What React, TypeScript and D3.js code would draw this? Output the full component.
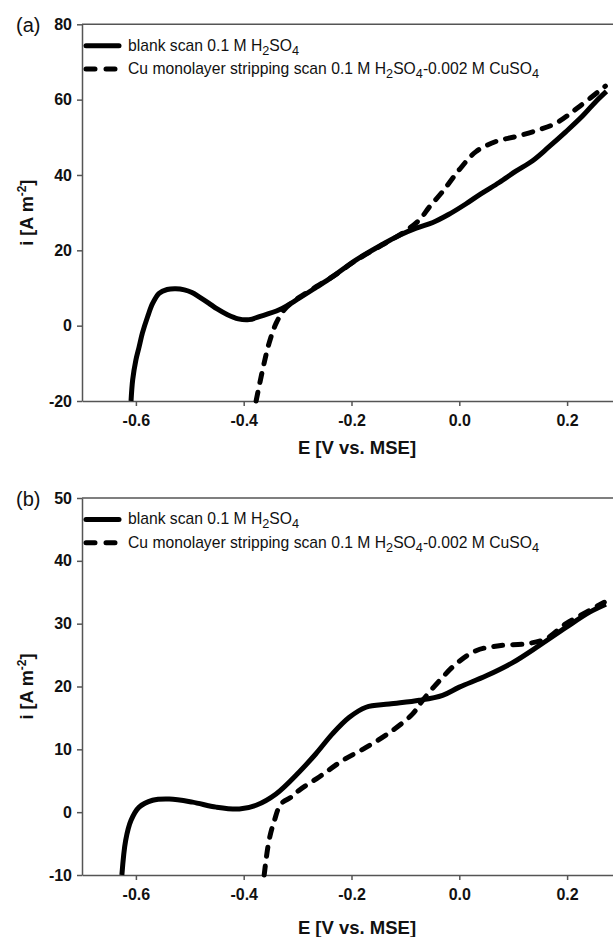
import React, { useEffect, useRef } from "react";
import * as d3 from "d3";

// ---------- data ----------
const xTicks = [-0.6, -0.4, -0.2, 0.0, 0.2];
const yTicksA = [-20, 0, 20, 40, 60, 80];
const yTicksB = [-10, 0, 10, 20, 30, 40, 50];

const blankA_E = [-0.609, -0.606, -0.6, -0.594, -0.588, -0.578, -0.569, -0.557, -0.542, -0.526, -0.51, -0.496, -0.482, -0.465, -0.45, -0.43, -0.41, -0.39, -0.371, -0.334, -0.297, -0.265, -0.235, -0.192, -0.142, -0.111, -0.08, -0.049, -0.02, 0.012, 0.04, 0.074, 0.105, 0.136, 0.165, 0.198, 0.229, 0.254, 0.273];
const blankA_i = [-20, -14.4, -9.1, -5.6, -2.0, 2.5, 5.9, 8.6, 9.6, 9.8, 9.5, 8.8, 7.6, 6.0, 4.5, 2.9, 1.8, 1.6, 2.4, 4.2, 7.3, 10.2, 13.0, 17.4, 21.6, 24.0, 25.9, 27.4, 29.5, 32.3, 35.0, 38.0, 41.0, 43.8, 47.3, 51.5, 55.7, 59.6, 62.2];
const cuA_E = [-0.377, -0.365, -0.353, -0.34, -0.325, -0.31, -0.297, -0.265, -0.235, -0.192, -0.142, -0.105, -0.074, -0.055, -0.031, 0.0, 0.031, 0.068, 0.105, 0.148, 0.18, 0.223, 0.271];
const cuA_i = [-20, -11.8, -4.7, 0.6, 4.2, 6.2, 7.5, 10.4, 13.0, 17.3, 21.5, 24.6, 28.1, 31.6, 35.6, 41.4, 46.2, 48.9, 50.2, 52.0, 53.8, 58.2, 63.6];

const blankB_E = [-0.626, -0.619, -0.609, -0.594, -0.569, -0.538, -0.495, -0.451, -0.408, -0.377, -0.34, -0.297, -0.266, -0.235, -0.204, -0.173, -0.13, -0.074, -0.031, 0.0, 0.05, 0.099, 0.148, 0.198, 0.241, 0.272];
const blankB_i = [-10, -4.5, -1.3, 0.8, 1.9, 2.1, 1.6, 0.8, 0.5, 1.1, 2.9, 6.4, 9.3, 12.5, 15.1, 16.7, 17.2, 17.8, 18.6, 19.9, 21.7, 23.8, 26.5, 29.4, 31.8, 33.1];
const cuB_E = [-0.362, -0.353, -0.343, -0.331, -0.312, -0.297, -0.26, -0.217, -0.173, -0.124, -0.087, -0.068, -0.037, -0.006, 0.031, 0.074, 0.124, 0.161, 0.198, 0.241, 0.269];
const cuB_i = [-10, -4.5, -1.3, 1.3, 2.4, 3.5, 5.6, 8.2, 10.3, 13.0, 15.6, 17.8, 20.9, 23.6, 25.7, 26.5, 26.8, 27.6, 30.0, 32.1, 33.4];

const panelLabels = ["(a)", "(b)"];
const xTitle = "E [V vs. MSE]";
const xDomain: [number, number] = [-0.7, 0.3];
const yDomainA: [number, number] = [-20, 80];
const yDomainB: [number, number] = [-10, 50];

// ---------- layout ----------
const W = 613, H = 937;
const FONT = "'Liberation Sans', Arial, Helvetica, sans-serif";
const AXIS_COLOR = "#555";
const DASH = "9,10";

type Panel = {
  label: string; top: number; bottom: number; yDomain: [number, number]; yTicks: number[];
  blank: [number, number][]; cu: [number, number][]; titleOffset: number;
};

const zip = (a: number[], b: number[]) => a.map((v, k) => [v, b[k]] as [number, number]);

const panels: Panel[] = [
  { label: panelLabels[0], top: 24.3, bottom: 401, yDomain: yDomainA, yTicks: yTicksA, blank: zip(blankA_E, blankA_i), cu: zip(cuA_E, cuA_i), titleOffset: 46 },
  { label: panelLabels[1], top: 498, bottom: 875, yDomain: yDomainB, yTicks: yTicksB, blank: zip(blankB_E, blankB_i), cu: zip(cuB_E, cuB_i), titleOffset: 52 },
];

export default function App() {
  const ref = useRef<SVGSVGElement>(null);
  useEffect(() => {
    const svg = d3.select(ref.current);
    svg.selectAll("*").remove();
    const x = d3.scaleLinear().domain(xDomain).range([82, 621]);
    panels.forEach((p) => {
      const y = d3.scaleLinear().domain(p.yDomain).range([p.bottom, p.top]);
      const g = svg.append("g");
      const xa = g.append("g").attr("transform", `translate(0,${p.bottom})`)
        .call(d3.axisBottom(x).tickValues(xTicks).tickFormat((d: any) => (+d).toFixed(1)).tickSize(5).tickSizeOuter(0).tickPadding(9));
      const ya = g.append("g").attr("transform", `translate(${x.range()[0]},0)`)
        .call(d3.axisLeft(y).tickValues(p.yTicks).tickFormat((d: any) => String(d)).tickSize(5).tickSizeOuter(0).tickPadding(5));
      [xa, ya].forEach((a) => {
        a.selectAll("path,line").attr("stroke", AXIS_COLOR).attr("stroke-width", 1.5);
        a.selectAll("text").attr("fill", "#111").attr("font-size", 16).attr("font-weight", "bold").attr("font-family", FONT);
      });
      g.append("line").attr("x1", x.range()[0]).attr("x2", W).attr("y1", p.top).attr("y2", p.top)
        .attr("stroke", AXIS_COLOR).attr("stroke-width", 1.5);

      const line = d3.line<[number, number]>().x((d) => x(d[0])).y((d) => y(d[1])).curve(d3.curveCatmullRom.alpha(0.5));
      g.append("path").attr("d", line(p.blank)).attr("fill", "none").attr("stroke", "#000").attr("stroke-width", 5).attr("stroke-linejoin", "round");
      g.append("path").attr("d", line(p.cu)).attr("fill", "none").attr("stroke", "#000").attr("stroke-width", 5)
        .attr("stroke-dasharray", DASH).attr("stroke-linecap", "round");

      g.append("text").attr("x", 16).attr("y", p.top + 8).attr("font-size", 20).attr("font-family", FONT).attr("fill", "#111").text(p.label);

      // legend
      const lx = 86, r1 = p.top + 21.4, r2 = p.top + 44.7;
      g.append("line").attr("x1", lx).attr("x2", lx + 33).attr("y1", r1).attr("y2", r1).attr("stroke", "#000").attr("stroke-width", 5).attr("stroke-linecap", "round");
      g.append("line").attr("x1", lx).attr("x2", lx + 33).attr("y1", r2).attr("y2", r2).attr("stroke", "#000").attr("stroke-width", 5)
        .attr("stroke-dasharray", "9,11").attr("stroke-linecap", "round");
      const fs = 15.7, sub = 12.7, dy = 4;
      const t1 = g.append("text").attr("x", 128).attr("y", r1 + 5).attr("font-size", fs).attr("font-family", FONT).attr("fill", "#111");
      t1.append("tspan").text("blank scan 0.1 M H");
      t1.append("tspan").attr("dy", dy).attr("font-size", sub).text("2");
      t1.append("tspan").attr("dy", -dy).text("SO");
      t1.append("tspan").attr("dy", dy).attr("font-size", sub).text("4");
      const t2 = g.append("text").attr("x", 128).attr("y", r2 + 5).attr("font-size", fs).attr("font-family", FONT).attr("fill", "#111");
      t2.append("tspan").text("Cu monolayer stripping scan 0.1 M H");
      t2.append("tspan").attr("dy", dy).attr("font-size", sub).text("2");
      t2.append("tspan").attr("dy", -dy).text("SO");
      t2.append("tspan").attr("dy", dy).attr("font-size", sub).text("4");
      t2.append("tspan").attr("dy", -dy).text("-0.002 M CuSO");
      t2.append("tspan").attr("dy", dy).attr("font-size", sub).text("4");

      const cy = (p.top + p.bottom) / 2;
      const yt = g.append("text").attr("transform", `translate(33,${cy}) rotate(-90)`).attr("text-anchor", "middle")
        .attr("font-size", 18).attr("font-weight", "bold").attr("font-family", FONT).attr("fill", "#111");
      yt.append("tspan").text("i [A m");
      yt.append("tspan").attr("dy", -7).attr("font-size", 12).text("-2");
      yt.append("tspan").attr("dy", 7).text("]");

      g.append("text").attr("x", 357).attr("y", p.bottom + p.titleOffset + 7).attr("text-anchor", "middle")
        .attr("font-size", 18.5).attr("font-weight", "bold").attr("font-family", FONT).attr("fill", "#111").text(xTitle);
    });
  }, []);
  return (
    <svg ref={ref} width={W} height={H} viewBox={`0 0 ${W} ${H}`}
      style={{ position: "absolute", left: 0, top: 0, background: "#fff", display: "block" }} />
  );
}
